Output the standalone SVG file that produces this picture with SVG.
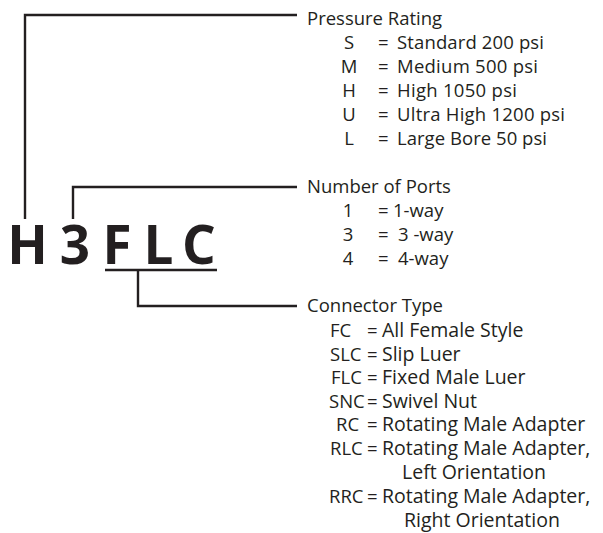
<svg xmlns="http://www.w3.org/2000/svg" width="603" height="533" viewBox="0 0 603 533">
<style>
.t{font-family:"Open Sans","Noto Sans",sans-serif;font-size:18.5px;fill:#231f20}
.c{font-family:"Open Sans","Noto Sans",sans-serif;font-size:19.5px;fill:#231f20}
.m{text-anchor:middle}
.big{font-family:"Open Sans","Noto Sans",sans-serif;font-size:53px;font-weight:bold;fill:#231f20;text-anchor:middle}
.ln{fill:none;stroke:#231f20;stroke-width:2.4}
</style>
<rect width="603" height="533" fill="#fff"/>
<g id="code">
<text class="big" x="27.5" y="264">H</text>
<text class="big" x="75" y="264">3</text>
<text class="big" x="117" y="264">F</text>
<text class="big" x="158.5" y="264">L</text>
<text class="big" x="199" y="264">C</text>
</g>
<g id="connectors">
<path class="ln" d="M25,219 V15 H297"/>
<path class="ln" d="M73,219 V187 H297"/>
<path class="ln" d="M105,270 H217"/>
<path class="ln" d="M138,270 V306 H297"/>
</g>
<g id="pressure">
<text class="t" x="307" y="24.5">Pressure Rating</text>
<text class="t m" x="349" y="49">S</text>
<text class="t m" x="349" y="73">M</text>
<text class="t m" x="349" y="97">H</text>
<text class="t m" x="349" y="121">U</text>
<text class="t m" x="349" y="145">L</text>
<text class="t" x="378" y="49">=</text>
<text class="t" x="378" y="73">=</text>
<text class="t" x="378" y="97">=</text>
<text class="t" x="378" y="121">=</text>
<text class="t" x="378" y="145">=</text>
<text class="t" x="397" y="49" textLength="147">Standard 200 psi</text>
<text class="t" x="397" y="73" textLength="141">Medium 500 psi</text>
<text class="t" x="397" y="97" textLength="120">High 1050 psi</text>
<text class="t" x="397" y="121" textLength="168">Ultra High 1200 psi</text>
<text class="t" x="397" y="145" textLength="150">Large Bore 50 psi</text>
</g>
<g id="ports">
<text class="t" x="307" y="192.5">Number of Ports</text>
<text class="t m" x="348" y="217">1</text>
<text class="t m" x="348" y="241">3</text>
<text class="t m" x="348" y="265">4</text>
<text class="t" x="378" y="217">=</text>
<text class="t" x="378" y="241">=</text>
<text class="t" x="378" y="265">=</text>
<text class="t" x="393" y="217">1-way</text>
<text class="t" x="398" y="241">3 -way</text>
<text class="t" x="398" y="265">4-way</text>
</g>
<g id="connector-type">
<text class="t" x="307" y="312">Connector Type</text>
<text class="t" x="330" y="336.5">FC</text>
<text class="t" x="330" y="360.5">SLC</text>
<text class="t" x="331" y="384">FLC</text>
<text class="t" x="329" y="407.5">SNC</text>
<text class="t" x="336" y="431">RC</text>
<text class="t" x="330" y="455">RLC</text>
<text class="t" x="329" y="502.5">RRC</text>
<text class="t" x="367" y="336.5">=</text>
<text class="t" x="367" y="360.5">=</text>
<text class="t" x="367" y="384">=</text>
<text class="t" x="367" y="407.5">=</text>
<text class="t" x="367" y="431">=</text>
<text class="t" x="367" y="455">=</text>
<text class="t" x="367" y="502.5">=</text>
<text class="c" x="382" y="336.5">All Female Style</text>
<text class="c" x="382" y="360.5">Slip Luer</text>
<text class="c" x="382" y="384">Fixed Male Luer</text>
<text class="c" x="382" y="407.5">Swivel Nut</text>
<text class="c" x="382" y="431">Rotating Male Adapter</text>
<text class="c" x="382" y="455">Rotating Male Adapter,</text>
<text class="c" x="402" y="479">Left Orientation</text>
<text class="c" x="382" y="502.5">Rotating Male Adapter,</text>
<text class="c" x="404" y="526.5">Right Orientation</text>
</g>
</svg>
